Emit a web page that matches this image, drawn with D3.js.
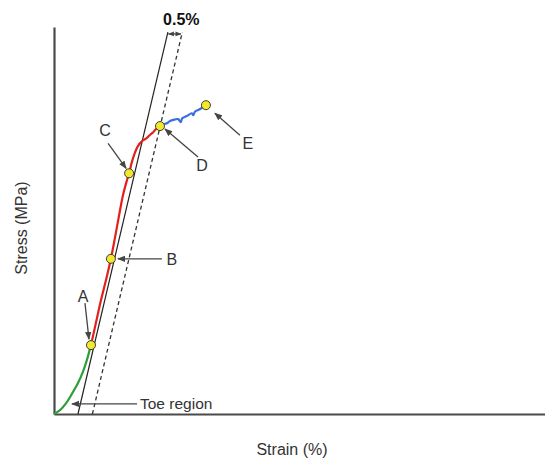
<!DOCTYPE html>
<html>
<head>
<meta charset="utf-8">
<script src="https://cdn.jsdelivr.net/npm/d3@7"></script>
<style>
  html, body { margin: 0; padding: 0; background: #fff; }
  svg { display: block; font-family: "Liberation Sans", Arial, sans-serif; }
</style>
</head>
<body>
<svg id="chart" width="545" height="458"></svg>
<script>
// Stress–strain curve of a tendon specimen, split into its loading regions.
// Strain in %, stress in MPa (axes carry no ticks, only the shape matters).

// Toe region (non-linear start)
const toeStrain  = [0, 0.21, 0.42, 0.62, 0.83, 1.00, 1.14, 1.28];
const toeStress  = [0, 1.0, 2.8, 5.2, 8.0, 10.9, 14.0, 17.8];

// Linear / elastic region up to yield
const linStrain  = [1.28, 1.45, 1.63, 1.80, 1.97, 2.11, 2.25, 2.39, 2.53, 2.60, 2.70, 2.80, 2.91, 3.05, 3.15, 3.24, 3.32, 3.42, 3.50, 3.59, 3.67];
const linStress  = [17.8, 23.5, 29.5, 34.6, 40.1, 45.5, 51.2, 56.6, 60.5, 62.2, 65.2, 67.5, 69.3, 70.5, 71.0, 71.5, 72.1, 72.7, 73.4, 73.9, 74.4];

// Plastic region up to failure
const plaStrain  = [3.67, 3.77, 3.90, 4.02, 4.13, 4.30, 4.39, 4.44, 4.60, 4.77, 4.82, 4.88, 5.06, 5.16, 5.26];
const plaStress  = [74.4, 74.9, 75.1, 75.7, 76.0, 76.2, 75.4, 76.4, 77.0, 77.7, 77.2, 78.1, 78.8, 79.3, 79.8];

// Marked points
const pointLabels = ["A", "B", "C", "D", "E"];
const pointStrain = [1.28, 1.97, 2.60, 3.67, 5.26];
const pointStress = [17.8, 40.1, 62.2, 74.4, 79.8];

// Elastic modulus line and the 0.5 % offset line
const modulus      = 31.7;   // MPa per % strain
const modulusStart = 0.83;   // strain where the modulus line meets zero stress
const offsetStrain = 0.5;    // offset for the yield construction
const lineTopStress = 98.7;

const svg = d3.select("#chart");

const x = d3.scaleLinear().domain([0, 17]).range([54, 545]);
const y = d3.scaleLinear().domain([0, 100]).range([414, 27]);

const ink = "#444";

// arrowhead markers
const defs = svg.append("defs");
function arrowMarker(id, size) {
  defs.append("marker")
    .attr("id", id)
    .attr("viewBox", "0 0 10 10")
    .attr("refX", 9).attr("refY", 5)
    .attr("markerUnits", "userSpaceOnUse")
    .attr("markerWidth", size).attr("markerHeight", size)
    .attr("orient", "auto-start-reverse")
    .append("path")
    .attr("d", "M0,1 L10,5 L0,9 Z")
    .attr("fill", ink);
}
arrowMarker("head", 8);
arrowMarker("headSmall", 6);

// axes: bare lines, no ticks
const xAxis = svg.append("g").attr("transform", `translate(0,${y(0)})`)
  .call(d3.axisBottom(x).tickValues([]).tickSizeOuter(0));
const yAxis = svg.append("g").attr("transform", `translate(${x(0)},0)`)
  .call(d3.axisLeft(y).tickValues([]).tickSizeOuter(0));
[xAxis, yAxis].forEach(g => g.select(".domain")
  .attr("stroke", "#4a4a4a").attr("stroke-width", 2.2));

// modulus line and offset line
const modLine = [0, lineTopStress].map(s => [modulusStart + s / modulus, s]);
const offLine = [0, lineTopStress].map(s => [modulusStart + offsetStrain + s / modulus, s]);
const straight = d3.line().x(d => x(d[0])).y(d => y(d[1]));
svg.append("path").attr("d", straight(modLine))
  .attr("fill", "none").attr("stroke", "#222").attr("stroke-width", 1.2);
svg.append("path").attr("d", straight(offLine))
  .attr("fill", "none").attr("stroke", "#333").attr("stroke-width", 1.3)
  .attr("stroke-dasharray", "4,3");

// 0.5 % dimension arrow between the two lines
const dimStress = 98.2;
const dimX0 = x(modulusStart + dimStress / modulus);
const dimX1 = x(modulusStart + offsetStrain + dimStress / modulus);
svg.append("line")
  .attr("x1", dimX0 + 1).attr("x2", dimX1 - 1)
  .attr("y1", y(dimStress)).attr("y2", y(dimStress))
  .attr("stroke", "#222").attr("stroke-width", 1.1)
  .attr("marker-start", "url(#headSmall)").attr("marker-end", "url(#headSmall)");
svg.append("text")
  .attr("x", x(modulusStart + offsetStrain + lineTopStress / modulus) - 1)
  .attr("y", 25)
  .attr("text-anchor", "middle")
  .attr("font-size", 16).attr("font-weight", "bold").attr("fill", "#111")
  .text("0.5%");

// curve segments
const curve = d3.line().x(d => x(d[0])).y(d => y(d[1])).curve(d3.curveCatmullRom.alpha(0.5));
const segments = [
  { s: toeStrain, t: toeStress, color: "#2e9e38" },
  { s: linStrain, t: linStress, color: "#e3201c" },
  { s: plaStrain, t: plaStress, color: "#3c6fdc" }
];
segments.forEach(seg => {
  svg.append("path")
    .attr("d", curve(seg.s.map((v, i) => [v, seg.t[i]])))
    .attr("fill", "none").attr("stroke", seg.color)
    .attr("stroke-width", 2.2).attr("stroke-linejoin", "round");
});

// callouts: label offset and arrow from label toward the point (pixels relative to the point)
const callouts = {
  A: { label: [-8, -43], from: [-6, -42], to: [-2, -6] },
  B: { label: [61, 6],   from: [51, 0],   to: [7, 0] },
  C: { label: [-24, -37], from: [-21, -30], to: [-3, -5] },
  D: { label: [42, 45],  from: [38, 31],  to: [5, 3] },
  E: { label: [42, 44],  from: [34, 30],  to: [9, 8] }
};
pointLabels.forEach((lab, i) => {
  const px = x(pointStrain[i]), py = y(pointStress[i]);
  const c = callouts[lab];
  svg.append("line")
    .attr("x1", px + c.from[0]).attr("y1", py + c.from[1])
    .attr("x2", px + c.to[0]).attr("y2", py + c.to[1])
    .attr("stroke", ink).attr("stroke-width", 1.3)
    .attr("marker-end", "url(#head)");
  svg.append("text")
    .attr("x", px + c.label[0]).attr("y", py + c.label[1])
    .attr("text-anchor", "middle")
    .attr("font-size", 16).attr("fill", "#333")
    .text(lab);
});

// key point markers
svg.append("g").selectAll("circle")
  .data(pointLabels.map((l, i) => [pointStrain[i], pointStress[i]]))
  .join("circle")
  .attr("cx", d => x(d[0])).attr("cy", d => y(d[1]))
  .attr("r", 4.5)
  .attr("fill", "#f3e92a").attr("stroke", "#3a3a3a").attr("stroke-width", 1);

// toe region callout
const toeY = y(2.6);
svg.append("line")
  .attr("x1", 137).attr("y1", toeY)
  .attr("x2", x(0.62)).attr("y2", toeY)
  .attr("stroke", ink).attr("stroke-width", 1.3)
  .attr("marker-end", "url(#head)");
svg.append("text")
  .attr("x", 140).attr("y", toeY + 5)
  .attr("font-size", 15.5).attr("fill", "#333")
  .text("Toe region");

// axis titles
svg.append("text")
  .attr("x", 292).attr("y", 455)
  .attr("text-anchor", "middle")
  .attr("font-size", 16).attr("fill", "#333")
  .text("Strain (%)");
svg.append("text")
  .attr("transform", "translate(27,228) rotate(-90)")
  .attr("text-anchor", "middle")
  .attr("font-size", 16).attr("fill", "#333")
  .text("Stress (MPa)");
</script>
</body>
</html>
